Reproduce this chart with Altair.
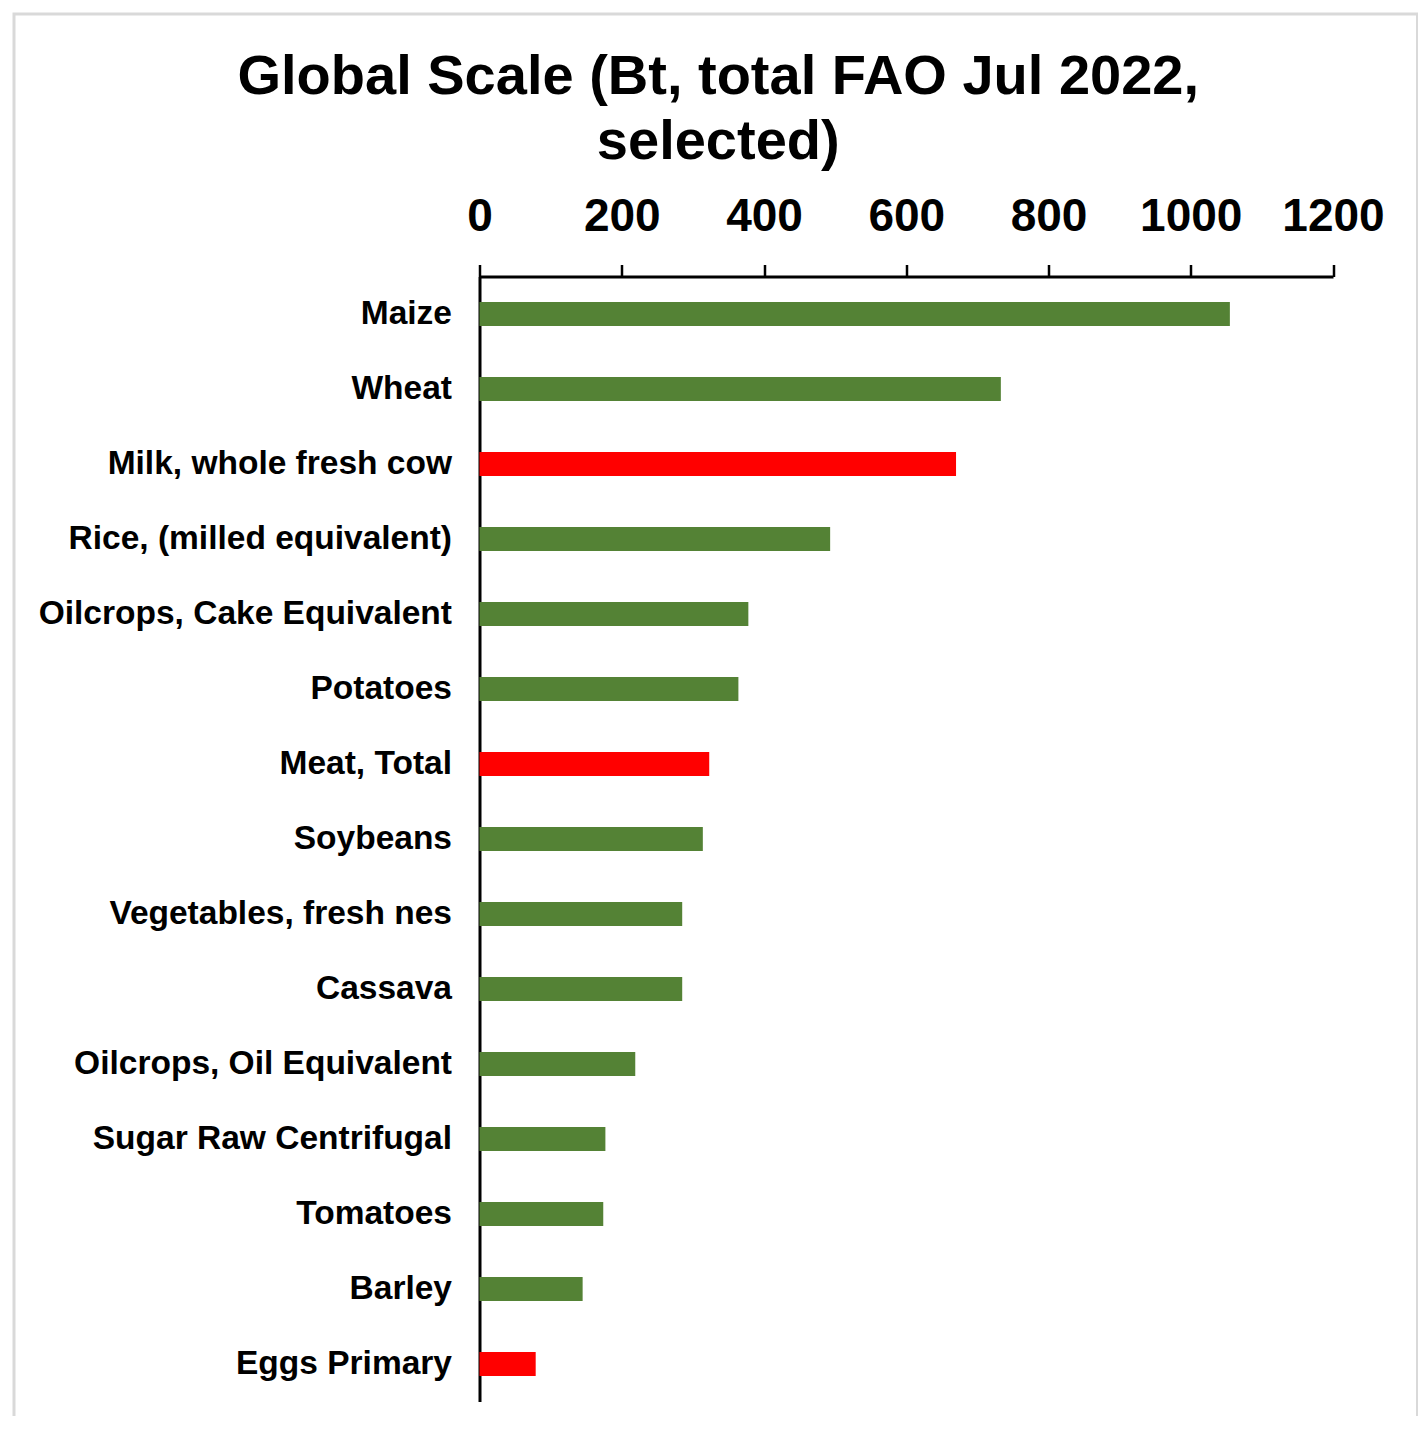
import altair as alt
import pandas as pd

categories = [
    "Maize", "Wheat", "Milk, whole fresh cow", "Rice, (milled equivalent)",
    "Oilcrops, Cake Equivalent", "Potatoes", "Meat, Total", "Soybeans",
    "Vegetables, fresh nes", "Cassava", "Oilcrops, Oil Equivalent",
    "Sugar Raw Centrifugal", "Tomatoes", "Barley", "Eggs Primary",
]
values = [1055, 733, 670, 493, 378, 364, 323, 314, 285, 285, 219, 177, 174, 145, 79]
groups = ["Crop", "Crop", "Animal", "Crop", "Crop", "Crop", "Animal", "Crop",
          "Crop", "Crop", "Crop", "Crop", "Crop", "Crop", "Animal"]
x_ticks = [0, 200, 400, 600, 800, 1000, 1200]

df = pd.DataFrame({"item": categories, "value": values, "group": groups})

FONT = "Liberation Sans"

bars = alt.Chart(df).mark_bar().encode(
    y=alt.Y(
        "item:N",
        sort=categories,
        scale=alt.Scale(paddingInner=0.68, paddingOuter=0.34),
        axis=alt.Axis(
            title=None, ticks=False, labelFontSize=33.5, labelFontWeight="bold",
            labelFont=FONT, labelColor="black", labelPadding=28, labelLimit=1000,
            domainColor="black", domainWidth=3,
        ),
    ),
    x=alt.X(
        "value:Q",
        scale=alt.Scale(domain=[0, 1200], nice=False),
        axis=alt.Axis(
            orient="top", title=None, values=x_ticks, grid=False, format="d",
            labelOverlap=False, labelFlush=False,
            labelFontSize=46, labelFontWeight="bold", labelFont=FONT,
            labelColor="black", labelPadding=24, tickSize=12, tickWidth=2.5,
            tickColor="black", domainColor="black", domainWidth=3,
        ),
    ),
    color=alt.Color(
        "group:N",
        scale=alt.Scale(domain=["Crop", "Animal"], range=["#548235", "#FF0000"]),
        legend=None,
    ),
)

border = alt.Chart(pd.DataFrame({"k": [0]})).mark_rect(
    fillOpacity=0, stroke="#d9d9d9", strokeWidth=3
).encode(
    x=alt.value(-465.5), x2=alt.value(938),
    y=alt.value(-262.5), y2=alt.value(1220),
)

chart = alt.layer(border, bars).properties(
    width=853.5,
    height=1125,
    autosize=alt.AutoSizeParams(type="none"),
    padding={"left": 471.5, "top": 268.5, "right": 85, "bottom": 14},
    title=alt.TitleParams(
        text=["Global Scale (Bt, total FAO Jul 2022,", "selected)"],
        fontSize=56, fontWeight="bold", font=FONT, color="black",
        lineHeight=65, anchor="middle", dx=-188, dy=178, offset=20,
    ),
).configure(background="white", view=alt.ViewConfig(stroke=None))

chart.save("out.html", embed_options={"renderer": "svg", "actions": False})
